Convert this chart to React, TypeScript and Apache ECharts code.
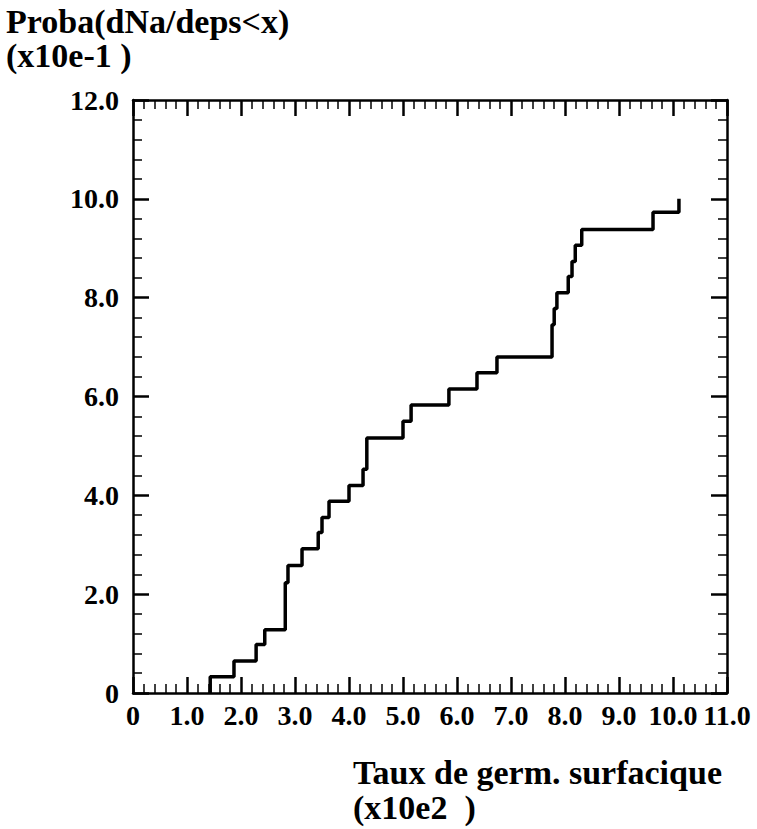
import React, { useEffect, useRef } from "react";
import * as echarts from "echarts";

// Axis setup
const xMin = 0;
const xMax = 11;
const xInterval = 1;
const yMin = 0;
const yMax = 12;
const yInterval = 2;

// Empirical distribution: x position of each step and level reached after it
const stepX = [1.43, 1.87, 2.28, 2.44, 2.82, 2.87, 3.13, 3.43, 3.5, 3.63, 4.0, 4.26, 4.33, 5.0, 5.15, 5.85, 6.37, 6.74, 7.76, 7.8, 7.85, 8.06, 8.13, 8.19, 8.31, 9.63, 10.11];
const stepY = [0.33, 0.65, 0.98, 1.28, 2.23, 2.58, 2.92, 3.25, 3.55, 3.88, 4.2, 4.53, 5.16, 5.5, 5.83, 6.15, 6.48, 6.8, 7.45, 7.78, 8.1, 8.43, 8.73, 9.06, 9.38, 9.73, 10.0];
const startLevel = 0;

const yTitle = ["Proba(dNa/deps<x)", "(x10e-1 )"];
const xTitle = ["Taux de germ. surfacique", "(x10e2  )"];

const FONT = '"Liberation Serif", "Times New Roman", serif';

export default function App() {
  const ref = useRef<HTMLDivElement>(null);

  useEffect(() => {
    if (!ref.current) return;
    const chart = echarts.init(ref.current, undefined, { renderer: "svg" });

    const data: number[][] = [[stepX[0], startLevel]];
    stepX.forEach((x, i) => data.push([x, stepY[i]]));

    const fmt = (v: number) => (v === 0 ? "0" : v.toFixed(1));

    const tickCommon = {
      axisLine: { show: true, onZero: false, lineStyle: { color: "#000", width: 2.5 } },
      axisTick: { show: true, inside: true, length: 16, lineStyle: { color: "#000", width: 2.5 } },
      minorTick: { show: true, splitNumber: 5, length: 9, lineStyle: { color: "#000", width: 1.5 } },
      splitLine: { show: false },
      minorSplitLine: { show: false },
    };

    const labelStyle = {
      color: "#000",
      fontFamily: FONT,
      fontWeight: "bold",
      fontSize: 28,
    };

    chart.setOption({
      animation: false,
      backgroundColor: "#fff",
      grid: { left: 133, right: 30, top: 100, bottom: 136, containLabel: false },
      xAxis: [
        {
          type: "value",
          position: "bottom",
          min: xMin,
          max: xMax,
          interval: xInterval,
          ...tickCommon,
          axisLabel: { show: true, margin: 8, formatter: fmt, ...labelStyle },
        },
        {
          type: "value",
          position: "top",
          min: xMin,
          max: xMax,
          interval: xInterval,
          ...tickCommon,
          axisLabel: { show: false },
        },
      ],
      yAxis: [
        {
          type: "value",
          position: "left",
          min: yMin,
          max: yMax,
          interval: yInterval,
          ...tickCommon,
          axisLabel: { show: true, margin: 14, formatter: fmt, ...labelStyle },
        },
        {
          type: "value",
          position: "right",
          min: yMin,
          max: yMax,
          interval: yInterval,
          ...tickCommon,
          axisLabel: { show: false },
        },
      ],
      graphic: [
        {
          type: "text",
          left: 6,
          top: 4,
          style: { text: yTitle[0], font: `bold 34px ${FONT}`, fill: "#000" },
        },
        {
          type: "text",
          left: 6,
          top: 38,
          style: { text: yTitle[1], font: `bold 34px ${FONT}`, fill: "#000" },
        },
        {
          type: "text",
          left: 353,
          top: 755,
          style: { text: xTitle[0], font: `bold 34px ${FONT}`, fill: "#000" },
        },
        {
          type: "text",
          left: 353,
          top: 790,
          style: { text: xTitle[1], font: `bold 34px ${FONT}`, fill: "#000" },
        },
      ],
      series: [
        {
          type: "line",
          xAxisIndex: 0,
          yAxisIndex: 0,
          step: "end",
          data,
          showSymbol: false,
          symbol: "none",
          lineStyle: { color: "#000", width: 3.5 },
          silent: true,
        },
      ],
    });

    return () => chart.dispose();
  }, []);

  return (
    <div
      ref={ref}
      style={{ position: "fixed", left: 0, top: 0, width: 757, height: 829, background: "#fff" }}
    />
  );
}
